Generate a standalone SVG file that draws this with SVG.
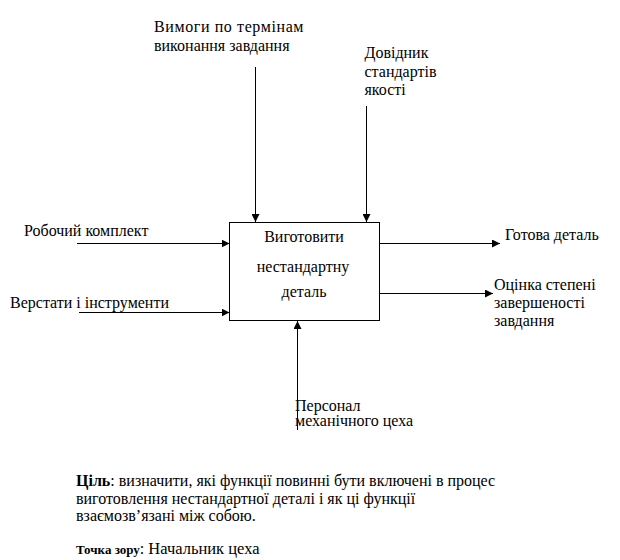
<svg xmlns="http://www.w3.org/2000/svg" width="620" height="560" viewBox="0 0 620 560">
<style>
text{font-family:"Liberation Serif","Times New Roman",serif;font-size:16px;fill:#000}
.c{text-anchor:middle}
.ln{stroke:#000;stroke-width:1;fill:none}
.b{font-weight:bold}
</style>
<defs>
<marker id="ah" viewBox="0 0 10 10" refX="10" refY="5" markerWidth="8" markerHeight="8" markerUnits="userSpaceOnUse" orient="auto">
<path d="M0,0 L10,5 L0,10 z" fill="#000"/>
</marker>
</defs>
<rect width="620" height="560" fill="#fff"/>
<g id="connectors">
<line class="ln" x1="255.5" y1="67" x2="255.5" y2="222" marker-end="url(#ah)"/>
<line class="ln" x1="366.5" y1="106" x2="366.5" y2="222" marker-end="url(#ah)"/>
<line class="ln" x1="77" y1="243.5" x2="229.5" y2="243.5" marker-end="url(#ah)"/>
<line class="ln" x1="79" y1="312.5" x2="229.5" y2="312.5" marker-end="url(#ah)"/>
<line class="ln" x1="379.5" y1="243.5" x2="500" y2="243.5" marker-end="url(#ah)"/>
<line class="ln" x1="379.5" y1="293.5" x2="493" y2="293.5" marker-end="url(#ah)"/>
<line class="ln" x1="297.5" y1="430" x2="297.5" y2="321" marker-end="url(#ah)"/>
</g>
<g id="node-main">
<rect x="229.5" y="222.5" width="150" height="98" fill="#fff" stroke="#000" stroke-width="1"/>
<text class="c" x="304" y="242">Виготовити</text>
<text class="c" x="303" y="272">нестандартну</text>
<text class="c" x="304" y="297">деталь</text>
</g>
<g id="label-control1">
<text x="154" y="32" style="letter-spacing:0.6px">Вимоги по термінам</text>
<text x="154" y="50.5">виконання завдання</text>
</g>
<g id="label-control2">
<text x="364.5" y="58">Довідник</text>
<text x="364.5" y="76.5">стандартів</text>
<text x="364.5" y="94.5">якості</text>
</g>
<g id="label-input1">
<text x="24" y="236">Робочий комплект</text>
</g>
<g id="label-input2">
<text x="10" y="308">Верстати і інструменти</text>
</g>
<g id="label-output1">
<text x="505" y="240">Готова деталь</text>
</g>
<g id="label-output2">
<text x="494" y="290">Оцінка степені</text>
<text x="494" y="308">завершеності</text>
<text x="494" y="326">завдання</text>
</g>
<g id="label-mechanism">
<text x="295" y="410.5">Персонал</text>
<text x="295" y="426">механічного цеха</text>
</g>
<g id="notes">
<text x="76" y="486"><tspan class="b">Ціль</tspan>: визначити, які функції повинні бути включені в процес</text>
<text x="76" y="503.5">виготовлення нестандартної деталі і як ці функції</text>
<text x="76" y="521">взаємозв’язані між собою.</text>
<text x="76" y="553.5"><tspan class="b" style="font-size:13px">Точка зору</tspan>: <tspan style="font-size:16.5px">Начальник цеха</tspan></text>
</g>
</svg>
